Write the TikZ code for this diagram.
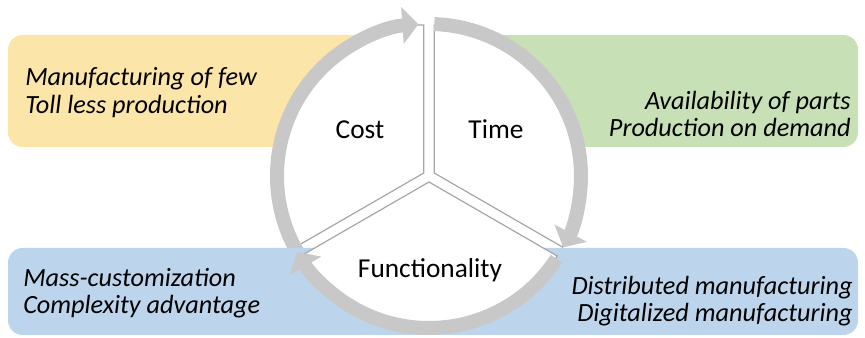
\documentclass[tikz,border=0pt]{standalone}
\usepackage{fontspec}
\setmainfont{Carlito}
\usepackage{xcolor}
\usetikzlibrary{arrows.meta,calc,positioning}

\definecolor{boxyellow}{HTML}{FCE5A9}
\definecolor{boxgreen}{HTML}{C7E0B6}
\definecolor{boxblue}{HTML}{BDD5EC}
\definecolor{ringgrey}{HTML}{C8C8C8}
\definecolor{edgegrey}{HTML}{A6A6A6}

\begin{document}
\begin{tikzpicture}[x=0.75pt,y=0.75pt,
		box/.style={rounded corners=11pt},
		sector/.style={fill=white,draw=edgegrey,line width=0.9pt},
		ring/.style={draw=ringgrey,line width=10.5pt,-{Triangle[width=27pt,length=12pt]}},
		side/.style={inner sep=0pt,font=\fontsize{19.7}{20.4}\selectfont\itshape},
		part/.style={inner sep=0pt,font=\fontsize{20.5}{24}\selectfont}]
		\useasboundingbox (0,0) rectangle (865,338);
		\coordinate (c) at (429,162);
		% boxes behind the wheel
		\fill[box,boxyellow] (8,191) rectangle (400,303);
		\fill[box,boxgreen] (440,191) rectangle (858,303);
		\fill[box,boxblue] (8,3) rectangle (858,90);
		% three sectors, pulled apart a little
		\draw[sector] (c) ++(150:6) coordinate (costtip) -- ++(90:148) arc[start angle=90,end angle=210,radius=148] -- cycle;
		\draw[sector] (c) ++(30:6) coordinate (timetip) -- ++(-30:148) arc[start angle=-30,end angle=90,radius=148] -- cycle;
		\draw[sector] (c) ++(270:6) coordinate (functip) -- ++(210:148) arc[start angle=210,end angle=330,radius=148] -- cycle;
		\node[part] (cost) at (360,208.5) {Cost};
		\node[part] (time) at (496,208.5) {Time};
		\node[part] (func) at (430,68) {Functionality};
		% the ring of arrows
		\begin{scope}
			\clip (0,90) rectangle (865,338);
			\draw[ring] (c) ++(220:152) arc[start angle=220,end angle=94,radius=152];
		\end{scope}
		\draw[ring] (c) ++(88:152) arc[start angle=88,end angle=-28,radius=152];
		\draw[ring] (c) ++(-33:152) arc[start angle=-33,end angle=-150,radius=152];
		% texts in the boxes
		\node[side,anchor=west,align=left] (few) at (25,245.5) {Manufacturing of few\\Toll less production};
		\node[side,anchor=east,align=right] (demand) at (851,224) {Availability of parts\\Production on demand};
		\node[side,anchor=west,align=left] (mass) at (23,44.5) {Mass-customization\\Complexity advantage};
		\node[side,anchor=east,align=right] (digital) at (853,36.5) {Distributed manufacturing\\Digitalized manufacturing};
\end{tikzpicture}
\end{document}
